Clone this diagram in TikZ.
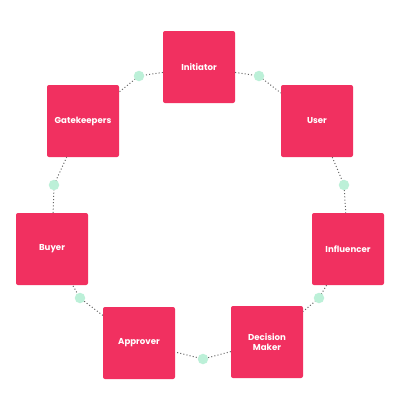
\documentclass[tikz,border=0pt]{standalone}
\usepackage{fontspec}
\setmainfont{Poppins}
\definecolor{boxred}{RGB}{241,48,96}
\definecolor{mint}{RGB}{188,240,216}
\definecolor{dotgray}{RGB}{100,100,100}
\begin{document}
\begin{tikzpicture}[x=1pt,y=-1pt,
  stage/.style={fill=boxred,draw=none,rounded corners=2pt,minimum width=72pt,minimum height=72pt,
    text=white,font=\fontsize{8.6}{10.5}\selectfont\bfseries,align=center,inner sep=0pt},
  joint/.style={circle,fill=mint,draw=none,minimum size=10.5pt,inner sep=0pt},
  link/.style={draw=dotgray,line width=1pt,dash pattern=on 1pt off 2.2pt}]
\fill[white] (0,0) rectangle (400,410);
\useasboundingbox (0,0) rectangle (400,410);
\node[stage] (init) at (199,67) {Initiator};
\node[stage] (user) at (317,121) {User};
\node[stage] (infl) at (348,249) {Influencer};
\node[stage] (dm) at (267,342) {Decision\\Maker};
\node[stage] (appr) at (139,343) {Approver};
\node[stage] (buyer) at (52,249) {Buyer};
\node[stage] (gate) at (83,121) {Gatekeepers};
\coordinate (c1) at (139,76);
\coordinate (c2) at (259,76);
\coordinate (c3) at (344,185);
\coordinate (c4) at (319,298);
\coordinate (c5) at (203,359);
\coordinate (c6) at (80,298);
\coordinate (c7) at (54,185);
\draw[link] (init) -- (c1) -- (gate);
\draw[link] (init) -- (c2) -- (user);
\draw[link] (user) -- (c3) -- (infl);
\draw[link] (infl) -- (c4) -- (dm);
\draw[link] (dm) -- (c5) -- (appr);
\draw[link] (appr) -- (c6) -- (buyer);
\draw[link] (buyer) -- (c7) -- (gate);
\node[joint] (j1) at (c1) {};
\node[joint] (j2) at (c2) {};
\node[joint] (j3) at (c3) {};
\node[joint] (j4) at (c4) {};
\node[joint] (j5) at (c5) {};
\node[joint] (j6) at (c6) {};
\node[joint] (j7) at (c7) {};
\end{tikzpicture}
\end{document}
